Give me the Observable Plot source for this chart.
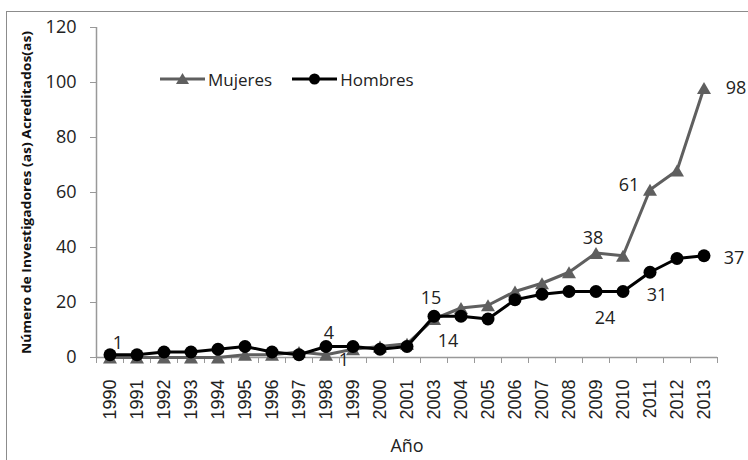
<!DOCTYPE html>
<html>
<head>
<meta charset="utf-8">
<script src="https://cdn.jsdelivr.net/npm/d3@7"></script>
<script src="https://cdn.jsdelivr.net/npm/@observablehq/plot@0.6"></script>
<style>
  html, body { margin: 0; padding: 0; background: #fff; overflow: hidden; }
  #wrap { position: relative; width: 748px; height: 460px; }
  #border { position: absolute; left: 6px; top: 11px; width: 800px; height: 500px; border: 1.5px solid #8c8c8c; }
  #chart { position: absolute; left: 0; top: 0; }
  #legend { position: absolute; left: 160px; top: 68px; height: 22px; display: flex; align-items: center;
            font-family: 'Open Sans', sans-serif; font-size: 17px; color: #222; }
  #legend .item { display: flex; align-items: center; margin-right: 20px; }
  #legend svg { margin-right: 3px; }
</style>
</head>
<body>
<div id="wrap">
  <div id="border"></div>
  <div id="chart"></div>
  <div id="legend">
    <div class="item"><svg width="45" height="22"><line x1="0" y1="11" x2="45" y2="11" stroke="#5f5f5f" stroke-width="3"/><path d="M22.5,5 L29,16 L16,16 Z" fill="#5f5f5f"/></svg><span>Mujeres</span></div>
    <div class="item"><svg width="45" height="22"><line x1="0" y1="11" x2="45" y2="11" stroke="#000" stroke-width="3"/><circle cx="22.5" cy="11" r="5.5" fill="#000"/></svg><span>Hombres</span></div>
  </div>
</div>
<script>
const years = ["1990","1991","1992","1993","1994","1995","1996","1997","1998","1999","2000","2001","2003","2004","2005","2006","2007","2008","2009","2010","2011","2012","2013"];
const mujeres = [0,0,0,0,0,1,1,2,1,3,4,5,14,18,19,24,27,31,38,37,61,68,98];
const hombres = [1,1,2,2,3,4,2,1,4,4,3,4,15,15,14,21,23,24,24,24,31,36,37];
const yTicks = [0,20,40,60,80,100,120];
const yLabel = "Número de Investigadores (as) Acreditados(as)";
const xLabel = "Año";

const mRows = years.map((year, i) => ({i, year, v: mujeres[i]}));
const hRows = years.map((year, i) => ({i, year, v: hombres[i]}));

const font = "'Open Sans', sans-serif";
function lab(rows, year, dx, dy) {
  const d = rows.filter(r => r.year === year);
  return Plot.text(d, {x: "i", y: "v", text: r => String(r.v), dx, dy, fontSize: 18, fill: "#222", fontFamily: font});
}

const chart = Plot.plot({
  width: 748, height: 460,
  marginLeft: 96, marginRight: 31, marginTop: 27, marginBottom: 103,
  style: {fontFamily: font, fontSize: "17px", color: "#222", background: "transparent"},
  x: {type: "linear", domain: [-0.5, years.length - 0.5]},
  y: {domain: [0, 120]},
  marks: [
    Plot.axisY({ticks: yTicks, tickSize: 6, tickPadding: 14, stroke: "#999", fill: "#222", fontSize: 18, label: null}),
    Plot.axisY({ticks: [], label: yLabel, labelAnchor: "center", labelArrow: "none", labelOffset: 74, fontSize: 12, fontWeight: "bold", fill: "#111"}),
    Plot.axisX({ticks: d3.range(years.length), tickFormat: i => years[i], tickSize: 0, tickPadding: 22, tickRotate: -90, fontSize: 18, fontFamily: "'Liberation Sans', Arial, sans-serif", fill: "#222", label: null}),
    Plot.axisX({ticks: d3.range(years.length + 1).map(k => k - 0.5), tickFormat: () => "", tickSize: 6, stroke: "#999", label: xLabel, labelAnchor: "center", labelArrow: "none", labelOffset: 94, fontSize: 18, fill: "#222"}),
    Plot.ruleY([0], {stroke: "#999", strokeWidth: 1.5}),
    Plot.ruleX([-0.5], {stroke: "#999", strokeWidth: 1.5}),
    Plot.line(mRows, {x: "i", y: "v", stroke: "#5f5f5f", strokeWidth: 3}),
    Plot.dot(mRows, {x: "i", y: "v", symbol: "triangle", r: 5.2, dy: 2, fill: "#5f5f5f"}),
    Plot.line(hRows, {x: "i", y: "v", stroke: "#000", strokeWidth: 3}),
    Plot.dot(hRows, {x: "i", y: "v", r: 6.5, fill: "#000"}),
    lab(hRows, "1990", 8, -12),
    lab(hRows, "1998", 3, -13),
    lab(mRows, "1998", 18, 5),
    lab(hRows, "2003", -3, -18),
    lab(mRows, "2003", 14, 22),
    lab(hRows, "2009", 9, 27),
    lab(hRows, "2011", 7, 23),
    lab(hRows, "2013", 30, 2),
    lab(mRows, "2013", 32, 0),
    lab(mRows, "2011", -21, -5),
    lab(mRows, "2009", -3, -15)
  ]
});
document.getElementById("chart").appendChild(chart);
d3.select(chart).selectAll("text").filter(function() { return this.textContent === yLabel; })
  .attr("textLength", 323).attr("lengthAdjust", "spacingAndGlyphs");
</script>
</body>
</html>
